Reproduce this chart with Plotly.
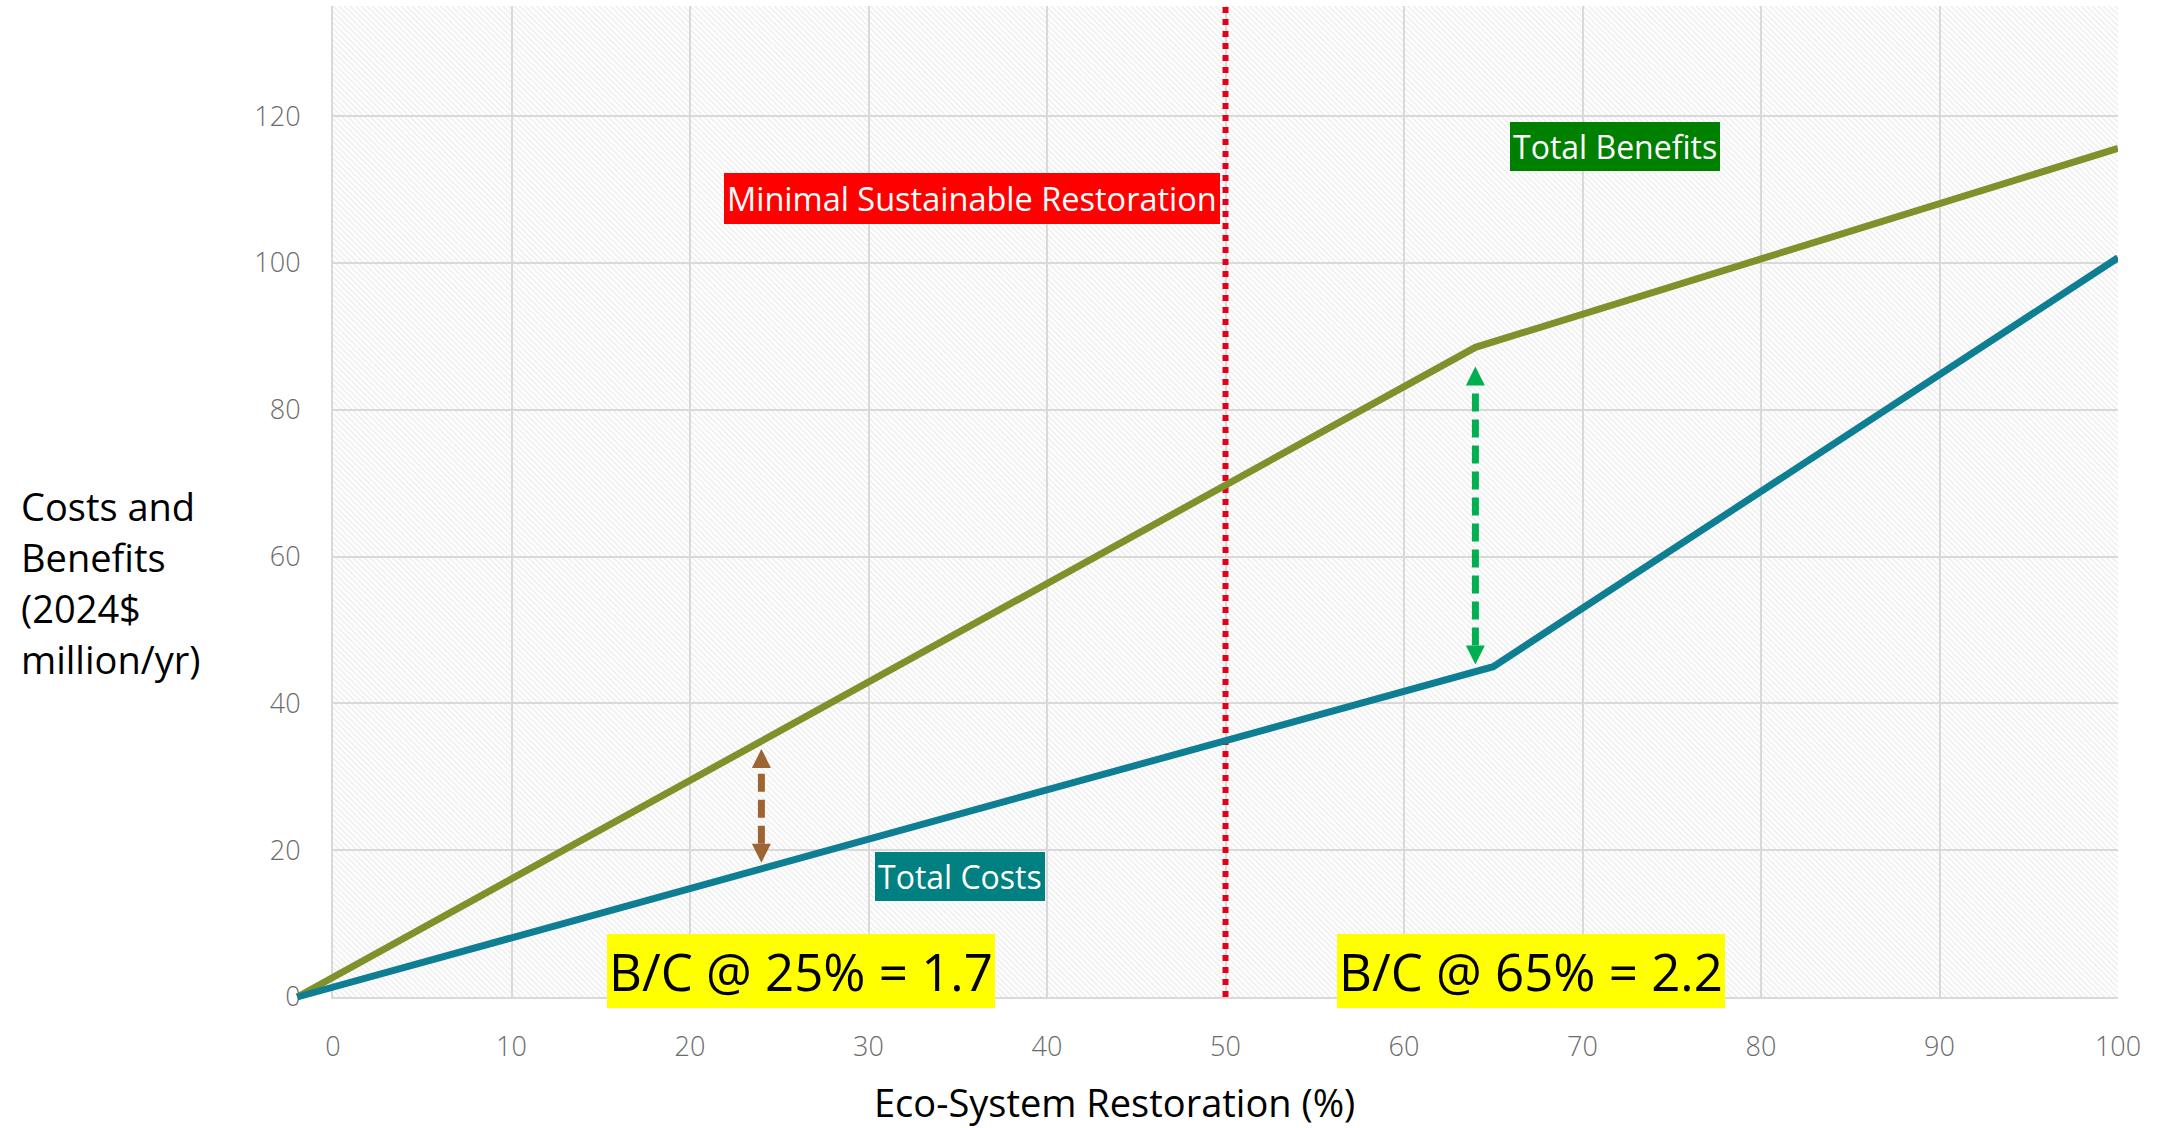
import plotly.graph_objects as go

# ---------------- data ----------------
x_ticks = [0, 10, 20, 30, 40, 50, 60, 70, 80, 90, 100]
y_ticks = [0, 20, 40, 60, 80, 100, 120]

# Total benefits / total costs (2024$ million per year) vs. restoration share (%)
benefits_x = [-2, 64, 100]
benefits_y = [0, 88.5, 115.6]
costs_x = [-2, 65, 100]
costs_y = [0, 45.0, 100.7]

# Benefit–cost gaps highlighted at 25 % and 65 % restoration (bottom tip, top tip)
gap25_x = 24
gap25_y = [18.3, 33.8]
gap65_x = 64
gap65_y = [45.3, 85.9]

# Minimal sustainable restoration threshold (%)
threshold_x = 50

y_title_lines = ["Costs and", "Benefits", "(2024$", "million/yr)"]

X_RANGE = [0, 100]
Y_RANGE = [0, 135]
# wider scale for the curves so they can start just left of the frame
X2_RANGE = [-3, 100]
Y2_RANGE = [-3, 135]

# ---------------- geometry ----------------
FIG_W, FIG_H = 2165, 1128
PLOT_L, PLOT_R, PLOT_T, PLOT_B = 333, 2118, 6, 997
M_L, M_R, M_T, M_B = 270, 47, 6, 100
PW = FIG_W - M_L - M_R
PH = FIG_H - M_T - M_B


def fx(px):
    return (px - M_L) / PW


def fy(py):
    return (FIG_H - M_B - py) / PH


xppu = (PLOT_R - PLOT_L) / (X_RANGE[1] - X_RANGE[0])
yppu = (PLOT_B - PLOT_T) / (Y_RANGE[1] - Y_RANGE[0])

FONT = "Open Sans, Noto Sans, sans-serif"
GRID = "#d9d9d9"
TICK_COLOR = "#6b6b6b"
BEN_COLOR = "#7e912a"
COST_COLOR = "#0e7f93"
BROWN = "#9e6433"
GREEN = "#00b050"
RED_LINE = "#e3001b"

HEAD_PX = 19
head_units = HEAD_PX / yppu

fig = go.Figure()

# hatched plot area
fig.add_trace(go.Scatter(
    x=[X_RANGE[0], X_RANGE[1], X_RANGE[1], X_RANGE[0], X_RANGE[0]],
    y=[Y_RANGE[0], Y_RANGE[0], Y_RANGE[1], Y_RANGE[1], Y_RANGE[0]],
    mode="lines", line=dict(width=0), fill="toself",
    fillcolor="rgba(0,0,0,0)",
    fillpattern=dict(shape="\\", fgcolor="#d9d9d9", bgcolor="rgba(0,0,0,0)",
                     size=4, solidity=0.35),
    hoverinfo="skip", xaxis="x", yaxis="y",
))

# threshold line
fig.add_trace(go.Scatter(
    x=[threshold_x, threshold_x], y=[Y_RANGE[0], Y_RANGE[1]],
    mode="lines", line=dict(color=RED_LINE, width=6, dash="dot"),
    hoverinfo="skip", xaxis="x", yaxis="y",
))

# curves
fig.add_trace(go.Scatter(
    x=benefits_x, y=benefits_y, mode="lines", name="Total Benefits",
    line=dict(color=BEN_COLOR, width=7), xaxis="x2", yaxis="y2",
))
fig.add_trace(go.Scatter(
    x=costs_x, y=costs_y, mode="lines", name="Total Costs",
    line=dict(color=COST_COLOR, width=7), xaxis="x2", yaxis="y2",
))


def gap_arrow(xv, yv, color):
    lo, hi = yv
    fig.add_trace(go.Scatter(
        x=[xv, xv], y=[lo + head_units, hi - head_units], mode="lines",
        line=dict(color=color, width=7, dash="18px,8px"),
        hoverinfo="skip", xaxis="x2", yaxis="y2",
    ))
    fig.add_trace(go.Scatter(
        x=[xv, xv], y=[lo, hi], mode="markers",
        marker=dict(symbol=["arrow-down", "arrow-up"], size=HEAD_PX,
                    color=color, line=dict(width=0)),
        hoverinfo="skip", xaxis="x2", yaxis="y2",
    ))


gap_arrow(gap25_x, gap25_y, BROWN)
gap_arrow(gap65_x, gap65_y, GREEN)

tick_font = dict(family=FONT, size=27, color=TICK_COLOR, weight=300)

fig.update_layout(
    width=FIG_W, height=FIG_H,
    margin=dict(l=M_L, r=M_R, t=M_T, b=M_B, pad=0),
    paper_bgcolor="white", plot_bgcolor="rgba(0,0,0,0)",
    showlegend=False,
    font=dict(family=FONT),
    xaxis=dict(
        domain=[fx(PLOT_L), 1], range=X_RANGE, tickvals=x_ticks,
        showgrid=True, gridcolor=GRID, gridwidth=2, zeroline=False,
        showline=True, linecolor=GRID, linewidth=2,
        ticks="", tickfont=tick_font, ticklabelstandoff=25,
        fixedrange=True,
    ),
    yaxis=dict(
        domain=[fy(PLOT_B), 1], range=Y_RANGE, tickvals=y_ticks,
        showgrid=True, gridcolor=GRID, gridwidth=2, zeroline=False,
        showline=True, linecolor=GRID, linewidth=2,
        ticks="", tickfont=tick_font, ticklabelstandoff=25,
        fixedrange=True,
    ),
    xaxis2=dict(
        domain=[fx(PLOT_L + (X2_RANGE[0] - X_RANGE[0]) * xppu), 1],
        range=X2_RANGE, visible=False, anchor="y2", fixedrange=True,
    ),
    yaxis2=dict(
        domain=[fy(PLOT_B - (Y2_RANGE[0] - Y_RANGE[0]) * yppu), 1],
        range=Y2_RANGE, visible=False, anchor="x2", fixedrange=True,
    ),
)


def box(text, x, y, bg, fg, size, pad):
    fig.add_annotation(
        text=text, x=x, y=y, xref="x", yref="y", showarrow=False,
        xanchor="center", yanchor="middle",
        font=dict(family=FONT, size=size, color=fg),
        bgcolor=bg, borderpad=pad, borderwidth=0,
    )


box("Minimal Sustainable Restoration", 35.8, 108.8, "#ff0000", "white", 32.5, 3)
box("Total Benefits", 71.8, 115.8, "#008000", "white", 32, 3)
box("Total Costs", 35.1, 16.4, "#008080", "white", 32, 3)
box("B/C @ 25% = 1.7", 26.2, 3.6, "#ffff00", "black", 51, 2)
box("B/C @ 65% = 2.2", 67.1, 3.5, "#ffff00", "black", 51, 2)

# y-axis title, one line per row
TITLE_TOP_PX, TITLE_STEP_PX = 506, 51
for i, line in enumerate(y_title_lines):
    fig.add_annotation(
        text=line, xref="paper", yref="paper",
        x=fx(19), y=fy(TITLE_TOP_PX + i * TITLE_STEP_PX),
        xanchor="left", yanchor="middle", align="left", showarrow=False,
        font=dict(family=FONT, size=38, color="black"),
    )

fig.add_annotation(
    text="Eco-System Restoration (%)",
    xref="paper", yref="paper", x=fx(1114), y=fy(1102),
    xanchor="center", yanchor="middle", showarrow=False,
    font=dict(family=FONT, size=38, color="black"),
)

fig.write_html("out.html")
